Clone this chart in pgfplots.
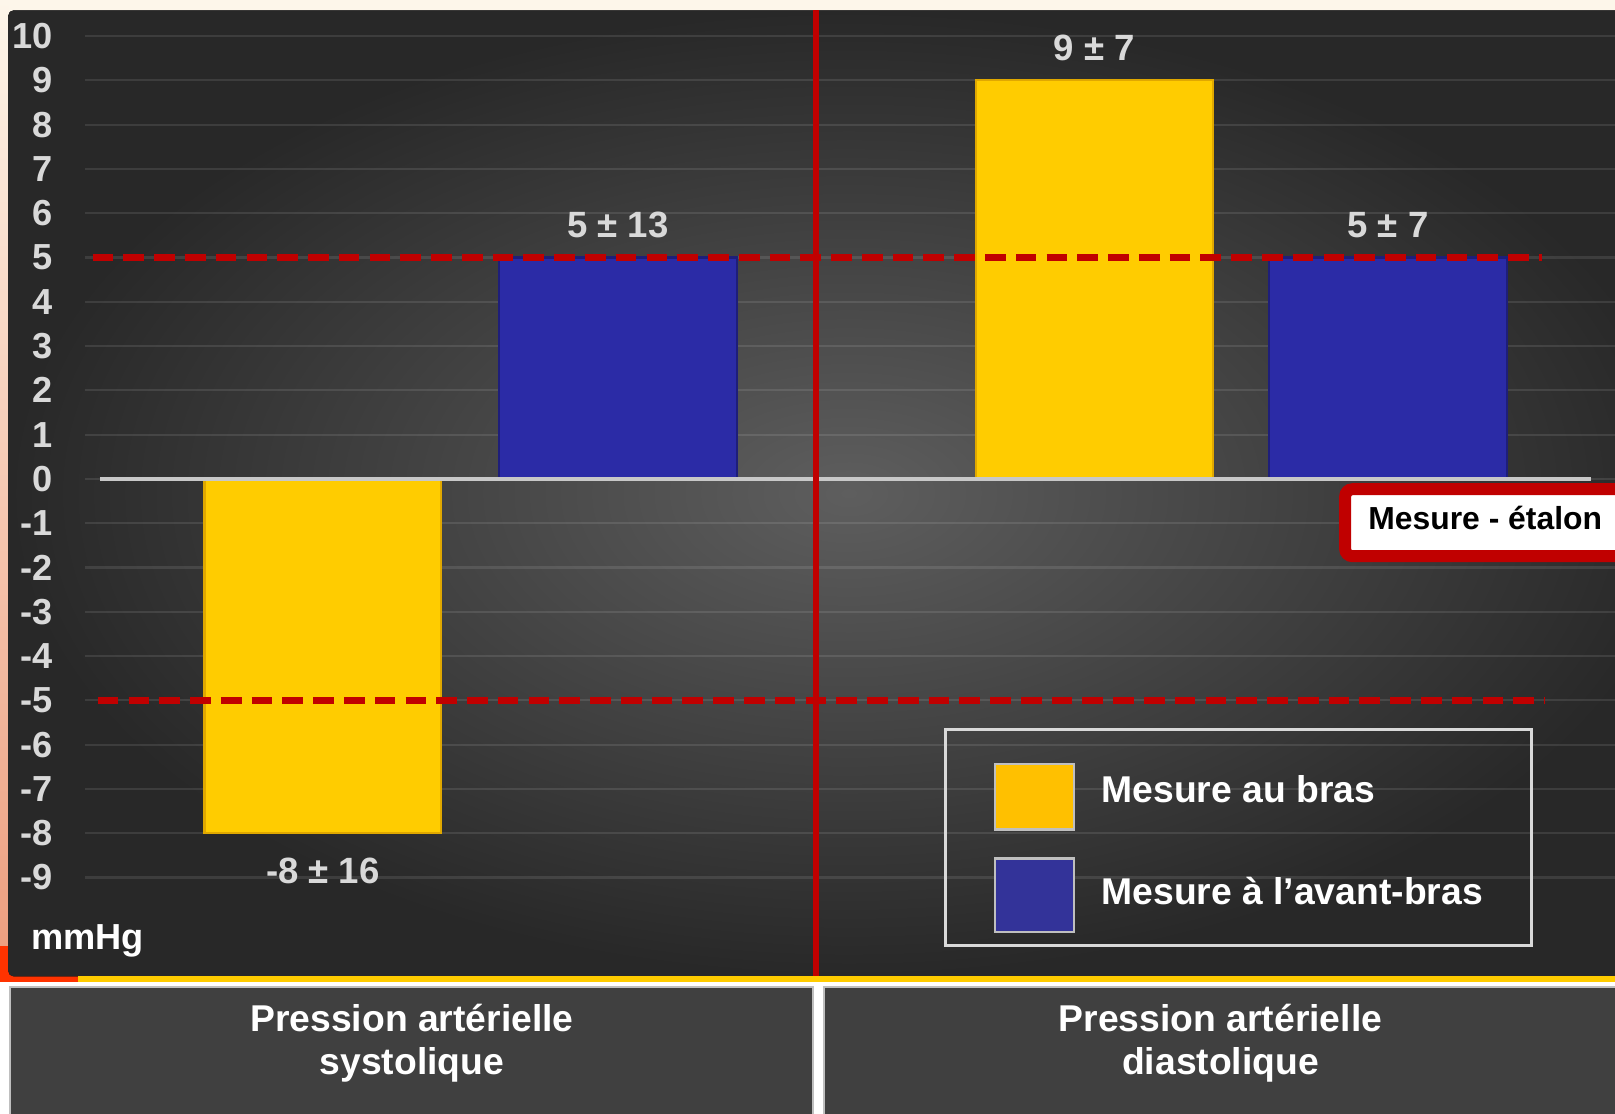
\documentclass[border=0pt]{standalone}
\usepackage{pgfplots}
\pgfplotsset{compat=1.18}
\usepackage{fontspec}
\setmainfont{Liberation Sans}
\definecolor{cream}{HTML}{FDF6EA}
\definecolor{salmon}{HTML}{EE9F80}
\definecolor{orangered}{HTML}{FF3300}
\definecolor{panelin}{HTML}{5E5E5E}
\definecolor{panelout}{HTML}{282828}
\definecolor{labgray}{HTML}{D9D9D9}
\definecolor{barY}{HTML}{FFCC00}
\definecolor{barYd}{HTML}{E0A800}
\definecolor{barB}{HTML}{2B2BA6}
\definecolor{barBd}{HTML}{1E1E7A}
\definecolor{legY}{HTML}{FFC000}
\definecolor{legB}{HTML}{333399}
\definecolor{redc}{HTML}{C00000}
\definecolor{zeroc}{HTML}{C8C8C8}
\definecolor{boxc}{HTML}{404040}
\definecolor{boxb}{HTML}{BFBFBF}
\tikzset{labelstyle/.style={font=\bfseries\fontsize{10.1}{12}\selectfont, text=labgray, inner ysep=5.1pt}}
\begin{document}
\begin{tikzpicture}
\begin{axis}[
  set layers,
  scale only axis, width=15.68cm, height=10.81cm,
  xmin=0, xmax=1568, ymin=-14.32558, ymax=10.81395,
  clip=false,
  axis line style={draw=none}, major tick length=0pt,
  ytick={-9,-8,...,10},
  /pgf/number format/assume math mode=true,
  yticklabel style={anchor=east, inner sep=0pt, xshift=0.52cm,
    font=\bfseries\fontsize{10}{12}\selectfont, text=labgray},
  xtick={400,1185},
  xticklabels={{Pression artérielle\\systolique},{Pression artérielle\\diastolique}},
  xticklabel style={align=center, anchor=center, yshift=0.68cm,
    font=\bfseries\fontsize{10.3}{12}\selectfont, text=white},
  ylabel={mmHg},
  every axis y label/.style={at={(axis description cs:0.0115,0.1545)}, anchor=west, rotate=0,
    font=\bfseries\fontsize{10}{12}\selectfont, text=white},
  legend cell align=left,
  legend style={at={(axis description cs:0.5848,0.3460)}, anchor=north west,
    draw=labgray, line width=0.8pt, fill=none,
    inner xsep=0.47cm, inner ysep=0.12cm, row sep=0.26cm, column sep=0.26cm,
    nodes={inner sep=0pt, text depth=0pt},
    font=\bfseries\fontsize{10.3}{12}\selectfont, text=white},
]
\begin{pgfonlayer}{axis background}
  \fill[white] (axis cs:0,-14.6) rectangle (axis cs:1620,11);
  \fill[cream] (axis cs:0,10.3) rectangle (axis cs:1620,11);
  \shade[top color=cream, bottom color=salmon] (axis cs:0,10.814) rectangle (axis cs:8,-10.6);
  \fill[orangered] (axis cs:0,-10.5349) rectangle (axis cs:76,-11.3488);
  \fill[inner color=panelin, outer color=panelout, rounded corners=1.5pt]
    (axis cs:8,10.5814) rectangle (axis cs:1640,-11.2326);
  \fill[barY] (axis cs:76,-11.2326) rectangle (axis cs:1620,-11.3488);
  \filldraw[fill=boxc, draw=boxb, line width=0.5pt] (axis cs:10,-11.4651) rectangle (axis cs:789,-14.6);
  \filldraw[fill=boxc, draw=boxb, line width=0.5pt] (axis cs:800,-11.4651) rectangle (axis cs:1640,-14.6);
  \pgfplotsinvokeforeach{-9,...,10}{
    \draw[white, opacity=0.10, line width=0.6pt] (axis cs:83,#1) -- (axis cs:1568,#1);
  }
\end{pgfonlayer}

% bars
\addplot[ybar, bar width=230, bar shift=0pt, fill=barY, draw=barYd, line width=0.6pt,
  legend image code/.code={\fill[legY, draw=boxb, line width=0.6pt] (0cm,-0.39cm) rectangle (0.76cm,0.25cm);
    \path (0cm,0.45cm);}]
  coordinates {(313.5,-8) (1062.5,9)};
\addlegendentry{Mesure au bras}
\addplot[ybar, bar width=231, bar shift=0pt, fill=barB, draw=barBd, line width=0.6pt,
  legend image code/.code={\fill[legB, draw=boxb, line width=0.6pt] (0cm,-0.40cm) rectangle (0.76cm,0.31cm);}]
  coordinates {(600,5) (1347.5,5)};
\addlegendentry{Mesure à l’avant-bras}

% value labels (mean ± SD) at the bar ends
\addplot[forget plot, draw=none, mark=none, point meta=explicit symbolic, nodes near coords,
  every node near coord/.append style={labelstyle, anchor=south}]
  coordinates {(1062.5,9) [9 ± 7] (600,5) [5 ± 13] (1347.5,5) [5 ± 7]};
\addplot[forget plot, draw=none, mark=none, point meta=explicit symbolic, nodes near coords,
  every node near coord/.append style={labelstyle, anchor=north, inner ysep=6.5pt}]
  coordinates {(313.5,-8) [-8 ± 16]};

% zero line and limits
\addplot[forget plot, zeroc, line width=1.1pt] coordinates {(97,0) (1545,0)};
\addplot[forget plot, redc, line width=1.9pt, dash pattern=on 5.7pt off 2.8pt] coordinates {(90,5) (1497,5)};
\addplot[forget plot, redc, line width=1.9pt, dash pattern=on 5.7pt off 2.8pt] coordinates {(95,-5) (1500,-5)};
\draw[redc, line width=1.7pt] (axis cs:792,10.5814) -- (axis cs:792,-11.2326);

% Mesure - etalon box
\draw[redc, line width=3.3pt, fill=white, rounded corners=2pt] (axis cs:1306,-0.2326) rectangle (axis cs:1640,-1.7442);
\node[font=\bfseries\fontsize{8.8}{10}\selectfont, text=black] at (axis cs:1442,-0.8837) {Mesure - étalon};
\end{axis}
\pgfresetboundingbox
\path[use as bounding box] (current axis.south west) rectangle (current axis.north east);
\end{tikzpicture}
\end{document}
